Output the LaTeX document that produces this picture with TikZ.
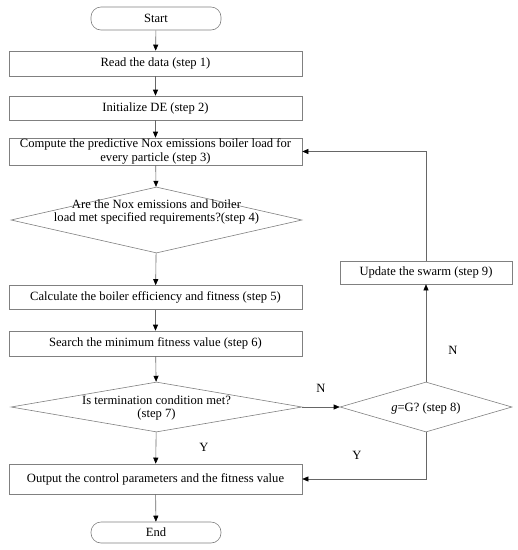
\documentclass[tikz,border=0pt]{standalone}
\usepackage{fontspec}
\setmainfont{Liberation Serif}
\usetikzlibrary{shapes.geometric,arrows.meta}
\tikzset{
  box/.style={draw=black!50, line width=0.6pt, rectangle, inner sep=0pt, text=black, font=\fontsize{12.6}{13.5}\selectfont, align=center},
  term/.style={box, rounded corners=10pt},
  dia/.style={draw=black!50, line width=0.6pt, diamond, inner sep=0pt, text=black},
  dtext/.style={text=black, font=\fontsize{12.6}{13}\selectfont, align=center},
  conn/.style={draw=black!60, line width=0.6pt, -{Triangle[length=6pt,width=5pt,black]}},
  lbl/.style={text=black, font=\fontsize{12.6}{13}\selectfont},
}
\begin{document}
\begin{tikzpicture}[x=1pt,y=-1pt]
\useasboundingbox (0,0) rectangle (518,550);
\node[term, minimum width=130pt, minimum height=23pt] (start) at (156,18.5) {Start};
\node[box, minimum width=293pt, minimum height=25pt] (read) at (155.5,63.5) {Read the data (step 1)};
\node[box, minimum width=293pt, minimum height=24pt] (init) at (155.5,108) {Initialize DE (step 2)};
\node[box, minimum width=293pt, minimum height=27pt] (comp) at (155.5,151.5) {Compute the predictive Nox emissions boiler load for\\every particle (step 3)};
\node[dia, minimum width=291pt, minimum height=66pt] (d1) at (156.5,220) {};
\node[dtext] (d1t) at (156.5,212) {Are the Nox emissions and boiler\\load met specified requirements?(step 4)};
\node[box, minimum width=293pt, minimum height=24pt] (calc) at (155.5,297.5) {Calculate the boiler efficiency and fitness (step 5)};
\node[box, minimum width=293pt, minimum height=25pt] (search) at (155.5,343.5) {Search the minimum fitness value (step 6)};
\node[dia, minimum width=291pt, minimum height=50pt] (d7) at (156.5,407) {};
\node[dtext] (d7t) at (156.5,408) {Is termination condition met?\\(step 7)};
\node[dia, minimum width=172pt, minimum height=50pt] (d8) at (426,407) {};
\node[dtext] (d8t) at (426,408) {\textit{g}=G? (step 8)};
\node[box, minimum width=172pt, minimum height=23pt] (upd) at (426,272.5) {Update the swarm (step 9)};
\node[box, minimum width=293pt, minimum height=30pt] (out) at (155.5,479) {Output the control parameters and the fitness value};
\node[term, minimum width=130pt, minimum height=21pt] (end) at (156,532.5) {End};

\draw[conn] (start) -- (read);
\draw[conn] (read) -- (init);
\draw[conn] (init) -- (comp);
\draw[conn] (comp) -- (d1);
\draw[conn] (d1) -- (calc);
\draw[conn] (calc) -- (search);
\draw[conn] (search) -- (d7);
\draw[conn] (d7) -- (out);
\draw[conn] (out) -- (end);
\draw[conn] (d7.east) -- (d8.west);
\draw[conn] (d8.north) -- (upd.south);
\draw[conn] (upd.north) |- (comp.east);
\draw[conn] (d8.south) |- (out.east);

\node[lbl] (n1) at (321,388) {N};
\node[lbl] (n2) at (453,350) {N};
\node[lbl] (y1) at (204,447) {Y};
\node[lbl] (y2) at (357,455) {Y};
\end{tikzpicture}
\end{document}
